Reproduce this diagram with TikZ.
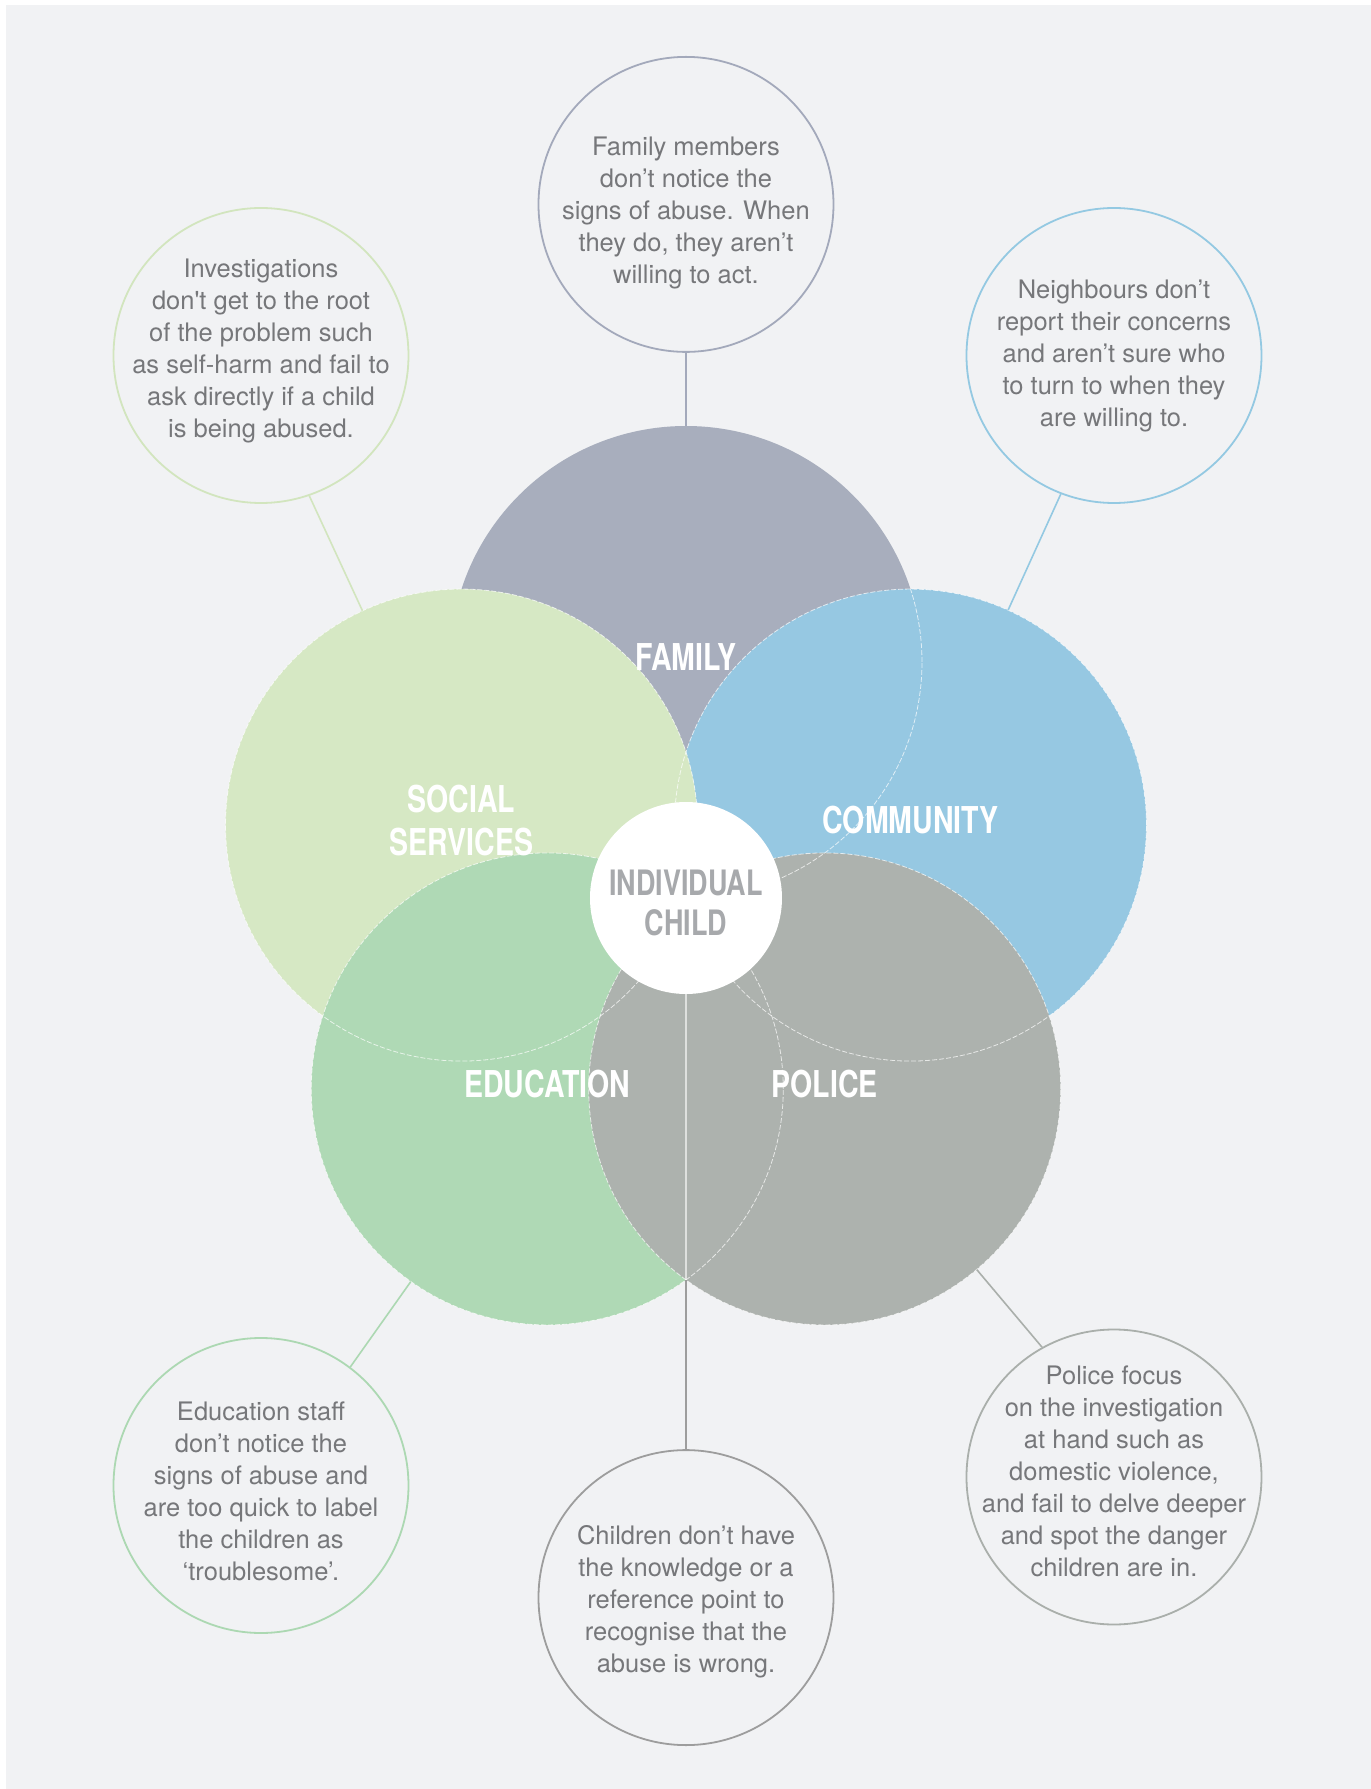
\documentclass[tikz,border=0pt]{standalone}
\usepackage{fontspec}
\setmainfont{TeX Gyre Heros}
\newfontfamily\notefont{TeX Gyre Heros}
\newfontfamily\tagfont{TeX Gyre Heros}[FakeStretch=0.77]
\usepackage{tikz}
\usetikzlibrary{positioning,calc}
\definecolor{bgcol}{RGB}{241,242,244}
\definecolor{famcol}{RGB}{168,174,189}
\definecolor{comcol}{RGB}{150,200,226}
\definecolor{soccol}{RGB}{214,232,196}
\definecolor{educol}{RGB}{175,217,181}
\definecolor{polcol}{RGB}{173,178,174}
\definecolor{famncol}{RGB}{163,169,187}
\definecolor{socncol}{RGB}{210,229,190}
\definecolor{comncol}{RGB}{148,201,226}
\definecolor{edncol}{RGB}{172,216,178}
\definecolor{indncol}{RGB}{157,157,157}
\definecolor{polncol}{RGB}{170,175,171}
\definecolor{textcol}{RGB}{118,119,122}
\definecolor{indcol}{RGB}{167,169,172}

\begin{document}
\begin{tikzpicture}[x=1pt,y=1pt]
    \tikzstyle{area}=[circle,inner sep=0pt,minimum size=472pt] %
    \tikzstyle{note}=[circle,draw,line width=1.8pt,inner sep=0pt,%
    minimum size=295pt] %
    \tikzstyle{ntext}=[align=center,text=textcol,%
    font=\notefont\fontsize{25.5}{32}\selectfont] %
    \tikzstyle{tag}=[align=center,text=white,yshift=5pt,%
    font=\tagfont\bfseries\fontsize{37}{43}\selectfont] %
    \tikzstyle{ghost}=[white,opacity=0.7,line width=0.8pt,%
    dash pattern=on 5pt off 2pt] %
    \tikzstyle{link}=[line width=1.6pt] %

    \useasboundingbox (-686,-891) rectangle (685,898);
    \fill[bgcol] (-680,-891) rectangle (685,893);

    \node[area,fill=famcol] (FAM) at (90:236) {};
    \node[area,fill=comcol] (COM) at (18:236) {};
    \node[area,fill=soccol] (SOC) at (162:236) {};
    \node[area,fill=educol] (EDU) at (234:236) {};
    \node[area,fill=polcol] (POL) at (306:236) {};

    % family outline shows through community only
    \begin{scope}
      \clip (COM.center) circle (236);
      \draw[ghost] (FAM.center) circle (236);
    \end{scope}
    \foreach \n in {COM,SOC,EDU,POL}
      \draw[ghost] (\n.center) circle (236);

    \coordinate (EDPO) at (0,-381.8);
    \node[circle,fill=white,inner sep=0pt,minimum size=192pt] (IND) at (0,0) {};
    \node[align=center,text=indcol,yshift=-5pt,%
    font=\tagfont\bfseries\fontsize{35}{39.5}\selectfont]%
    (INDT) at (IND) {INDIVIDUAL\\CHILD};
    \path [-] (EDPO) edge[link,white,opacity=0.6] (IND);

    \node[tag] (FAMT) at (FAM) {FAMILY};
    \node[tag] (COMT) at (COM) {COMMUNITY};
    \node[tag] (SOCT) at (SOC) {SOCIAL\\SERVICES};
    \node[tag] (EDUT) at (EDU) {EDUCATION};
    \node[tag] (POLT) at (POL) {POLICE};

    \node[note,draw=famncol] (FAMN) [above=73pt of FAM] {};
    \node[note,draw=socncol] (SOCN) at (-425,542.5) {};
    \node[note,draw=comncol] (COMN) at (428,542.5) {};
    \node[note,draw=edncol] (EDUN) at (-425,-587.5) {};
    \node[note,draw=indncol] (INDN) [below=455pt of IND] {};
    \node[note,draw=polncol] (POLN) at (428,-579) {};

    \node[ntext,yshift=-9pt] (FAMX) at (FAMN) {Family members\\don’t notice the\\%
    signs of abuse. When\\they do, they aren’t\\willing to act.};
    \node[ntext,yshift=5pt] (SOCX) at (SOCN) {Investigations\\don't get to the root\\%
    of the problem such\\as self-harm and fail to\\ask directly if a child\\%
    is being abused.};
    \node[ntext] (COMX) at (COMN) {Neighbours don’t\\report their concerns\\%
    and aren’t sure who\\to turn to when they\\are willing to.};
    \node[ntext,yshift=-6pt] (EDUX) at (EDUN) {Education staff\\don’t notice the\\%
    signs of abuse and\\are too quick to label\\the children as\\%
    ‘troublesome’.};
    \node[ntext,yshift=-4pt] (INDX) at (INDN) {Children don’t have\\the knowledge or a\\%
    reference point to\\recognise that the\\abuse is wrong.};
    \node[ntext,yshift=6pt] (POLX) at (POLN) {Police focus\\on the investigation\\%
    at hand such as\\domestic violence,\\and fail to delve deeper\\%
    and spot the danger\\children are in.};

    \path [-] (FAMN) edge[link,famncol] (FAM);
    \path [-] (SOCN.-71) edge[link,socncol] (SOC);
    \path [-] (COMN.-111) edge[link,comncol] (COM);
    \path [-] (EDUN.53) edge[link,edncol] (EDU);
    \path [-] (POLN.119) edge[link,polncol] (POL);
    \path [-] (INDN) edge[link,indncol] (EDPO);
\end{tikzpicture}
\end{document}
